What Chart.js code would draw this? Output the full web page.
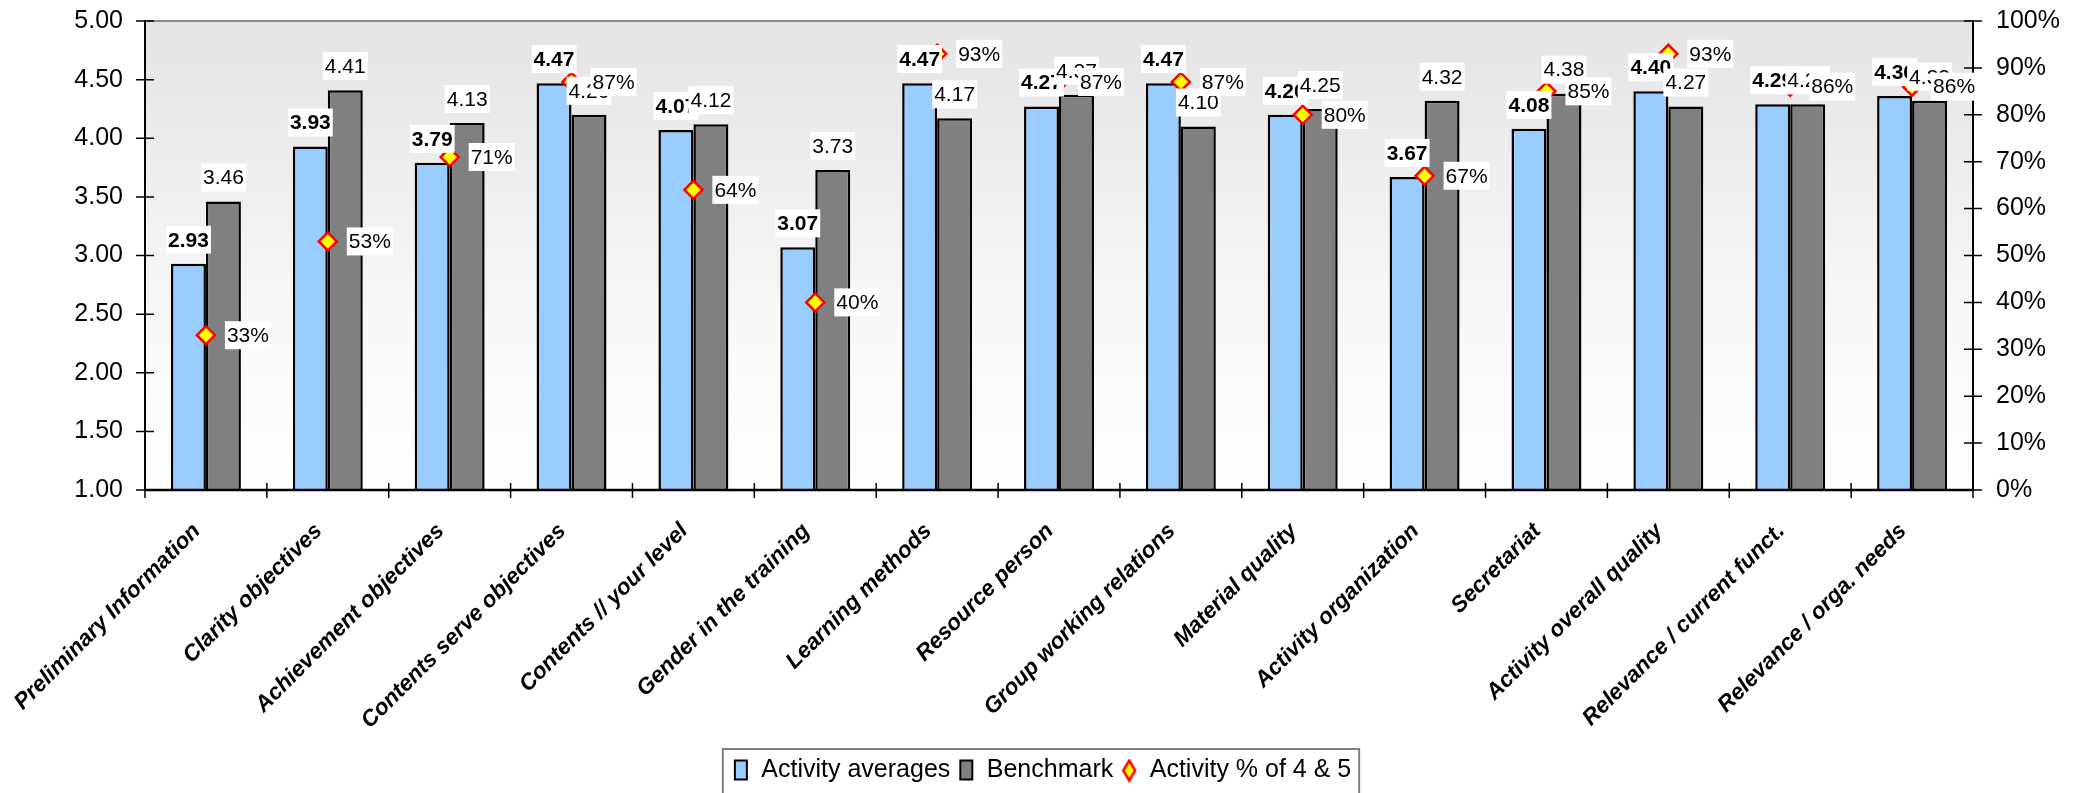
<!DOCTYPE html>
<html>
<head>
<meta charset="utf-8">
<title>Training evaluation – activity averages vs benchmark</title>
<script src="https://cdn.jsdelivr.net/npm/chart.js@4.4.1/dist/chart.umd.min.js"></script>
<style>
  html, body { margin: 0; padding: 0; background: #ffffff; }
  #wrap { width: 2084px; height: 793px; overflow: hidden; }
</style>
</head>
<body>
<div id="wrap"><canvas id="chart" width="2084" height="793"></canvas></div>
<script>
// ---- data ----
const categories = [
  'Preliminary Information', 'Clarity objectives', 'Achievement objectives',
  'Contents serve objectives', 'Contents // your level', 'Gender in the training',
  'Learning methods', 'Resource person', 'Group working relations',
  'Material quality', 'Activity organization', 'Secretariat',
  'Activity overall quality', 'Relevance / current funct.', 'Relevance / orga. needs'
];
const activityAverages = [2.93, 3.93, 3.79, 4.47, 4.07, 3.07, 4.47, 4.27, 4.47, 4.20, 3.67, 4.08, 4.40, 4.29, 4.36];
const benchmark        = [3.46, 4.41, 4.13, 4.20, 4.12, 3.73, 4.17, 4.37, 4.10, 4.25, 4.32, 4.38, 4.27, 4.29, 4.32];
const share4and5       = [0.33, 0.53, 0.71, 0.87, 0.64, 0.40, 0.93, 0.87, 0.87, 0.80, 0.67, 0.85, 0.93, 0.86, 0.86];
const seriesNames = ['Activity averages', 'Benchmark', 'Activity % of 4 & 5'];

// ---- axis ranges ----
const scoreAxis = { min: 1, max: 5, step: 0.5 };
const shareAxis = { min: 0, max: 1, step: 0.1 };

const FONT = '"Liberation Sans", Arial, Helvetica, sans-serif';
const BLUE = '#99CCFF', GREY = '#808080';

// Small canvases used as legend keys
function legendKey(kind) {
  const c = document.createElement('canvas');
  c.width = 16; c.height = 24;
  const g = c.getContext('2d');
  if (kind === 'diamond') {
    g.beginPath();
    g.moveTo(8, 2); g.lineTo(14, 12); g.lineTo(8, 22); g.lineTo(2, 12); g.closePath();
    g.fillStyle = '#FFFF00'; g.fill();
    g.lineWidth = 2.5; g.strokeStyle = '#FF0000'; g.stroke();
  } else {
    g.fillStyle = kind;
    g.fillRect(2, 2, 12, 19);
    g.lineWidth = 2; g.strokeStyle = '#000';
    g.strokeRect(2, 2, 12, 19);
  }
  return c;
}
const legendKeys = [legendKey(BLUE), legendKey(GREY), legendKey('diamond')];

// Plot-area fill and top frame line
const plotBackground = {
  id: 'plotBackground',
  beforeDraw(chart) {
    const { ctx, chartArea: a } = chart;
    const grad = ctx.createLinearGradient(0, a.top, 0, a.bottom);
    grad.addColorStop(0, '#E4E4E4');
    grad.addColorStop(0.75, '#FBFBFB');
    grad.addColorStop(1, '#FFFFFF');
    ctx.save();
    ctx.fillStyle = grad;
    ctx.fillRect(a.left, a.top, a.right - a.left, a.bottom - a.top);
    ctx.strokeStyle = '#8C8C8C';
    ctx.lineWidth = 2;
    ctx.beginPath();
    ctx.moveTo(a.left, a.top); ctx.lineTo(a.right, a.top);
    ctx.stroke();
    ctx.restore();
  }
};

// Value labels on white boxes: averages, then benchmark, then shares
const valueLabels = {
  id: 'valueLabels',
  afterDatasetsDraw(chart) {
    const ctx = chart.ctx;
    const boxed = (text, x, y, align, font) => {
      ctx.font = font;
      const w = ctx.measureText(text).width;
      const left = align === 'center' ? x - w / 2 : x;
      ctx.fillStyle = '#FFFFFF';
      ctx.fillRect(left - 2, y - 14, w + 4, 28);
      ctx.fillStyle = '#000000';
      ctx.textAlign = 'left';
      ctx.textBaseline = 'middle';
      ctx.fillText(text, left, y + 1);
    };
    ctx.save();
    chart.getDatasetMeta(0).data.forEach((bar, i) => {
      boxed(activityAverages[i].toFixed(2), bar.x, bar.y - 24, 'center', 'bold 21px ' + FONT);
    });
    chart.getDatasetMeta(1).data.forEach((bar, i) => {
      boxed(benchmark[i].toFixed(2), bar.x, bar.y - 24, 'center', '21px ' + FONT);
    });
    chart.getDatasetMeta(2).data.forEach((pt, i) => {
      boxed(Math.round(share4and5[i] * 100) + '%', pt.x + 21, pt.y, 'left', '21px ' + FONT);
    });
    ctx.restore();
  }
};

// Tick marks crossing the axes, axis line on top of bars, legend frame
const axisMarks = {
  id: 'axisMarks',
  afterDraw(chart) {
    const { ctx, chartArea: a, scales } = chart;
    ctx.save();
    ctx.strokeStyle = '#000';
    ctx.lineWidth = 1.5;
    ctx.beginPath();
    scales.y.ticks.forEach((t, i) => {
      const y = scales.y.getPixelForTick(i);
      ctx.moveTo(a.left - 9, y); ctx.lineTo(a.left + 9, y);
    });
    scales.y1.ticks.forEach((t, i) => {
      const y = scales.y1.getPixelForTick(i);
      ctx.moveTo(a.right - 9, y); ctx.lineTo(a.right + 9, y);
    });
    for (let i = 0; i <= categories.length; i++) {
      const x = scales.x.getPixelForValue(i - 0.5);
      ctx.moveTo(x, a.bottom - 7); ctx.lineTo(x, a.bottom + 8);
    }
    ctx.stroke();
    ctx.lineWidth = 2.5;
    ctx.beginPath();
    ctx.moveTo(a.left, a.bottom); ctx.lineTo(a.right, a.bottom);
    ctx.stroke();

    const boxes = chart.legend && chart.legend.legendHitBoxes;
    if (boxes && boxes.length) {
      const l = Math.min(...boxes.map(b => b.left)) - 10;
      const r = Math.max(...boxes.map(b => b.left + b.width)) + 8;
      const t = Math.min(...boxes.map(b => b.top)) - 9;
      ctx.strokeStyle = '#808080';
      ctx.lineWidth = 2;
      ctx.strokeRect(l, t, r - l, chart.height - t + 10);
    }
    ctx.restore();
  }
};

const PLOT_BOTTOM = 490;

// Vertical-axis gap between the axis line and its labels (invisible tick marks)
const sideGrid = (gap) => ({
  display: true, drawOnChartArea: false, drawTicks: true,
  tickLength: gap, tickColor: 'rgba(0,0,0,0)'
});

new Chart(document.getElementById('chart'), {
  type: 'bar',
  data: {
    labels: categories,
    datasets: [
      {
        label: seriesNames[0], data: activityAverages, order: 2, yAxisID: 'y',
        backgroundColor: BLUE, borderColor: '#000', borderWidth: 2.5, borderSkipped: false,
        barPercentage: 1, categoryPercentage: 0.574
      },
      {
        label: seriesNames[1], data: benchmark, order: 3, yAxisID: 'y',
        backgroundColor: GREY, borderColor: '#000', borderWidth: 2.5, borderSkipped: false,
        barPercentage: 1, categoryPercentage: 0.574
      },
      {
        type: 'line', label: seriesNames[2], data: share4and5, order: 1, yAxisID: 'y1',
        showLine: false, pointStyle: 'rectRot', pointRadius: 9,
        pointBackgroundColor: '#FFFF00', pointBorderColor: '#FF0000', pointBorderWidth: 2.5,
        backgroundColor: '#FFFF00', borderColor: '#FF0000'
      }
    ]
  },
  options: {
    responsive: false,
    animation: false,
    devicePixelRatio: 1,
    layout: { padding: { top: 21, left: 0, right: 0, bottom: 0 } },
    plugins: {
      tooltip: { enabled: false },
      legend: {
        position: 'bottom',
        labels: {
          usePointStyle: true,
          pointStyleWidth: 16,
          padding: 8,
          color: '#000',
          font: { family: FONT, size: 25 },
          generateLabels(chart) {
            return chart.data.datasets.map((ds, i) => ({
              text: ds.label, datasetIndex: i, pointStyle: legendKeys[i],
              fillStyle: 'transparent', strokeStyle: 'transparent', lineWidth: 0, hidden: false
            }));
          }
        }
      }
    },
    scales: {
      x: {
        offset: true,
        grid: { display: false },
        border: { display: true, color: '#000', width: 2 },
        ticks: {
          autoSkip: false, minRotation: 45, maxRotation: 45, padding: 20, labelOffset: -9,
          color: '#000', font: { family: FONT, size: 22.5, weight: 'bold', style: 'italic' }
        },
        afterFit(scale) {
          const lg = scale.chart.legend;
          scale.height = scale.chart.height - PLOT_BOTTOM - (lg ? lg.height : 0);
        }
      },
      y: {
        position: 'left',
        min: scoreAxis.min, max: scoreAxis.max,
        grid: sideGrid(20),
        border: { display: true, color: '#000', width: 2 },
        ticks: {
          stepSize: scoreAxis.step, padding: 2, color: '#000',
          font: { family: FONT, size: 25 },
          callback: v => Number(v).toFixed(2)
        },
        afterFit(scale) { scale.width = 145; }
      },
      y1: {
        position: 'right',
        min: shareAxis.min, max: shareAxis.max,
        grid: sideGrid(21),
        border: { display: true, color: '#000', width: 2 },
        ticks: {
          stepSize: shareAxis.step, padding: 2, color: '#000',
          font: { family: FONT, size: 25 },
          callback: v => Math.round(v * 100) + '%'
        },
        afterFit(scale) { scale.width = 111; }
      }
    }
  },
  plugins: [plotBackground, valueLabels, axisMarks]
});
</script>
</body>
</html>
